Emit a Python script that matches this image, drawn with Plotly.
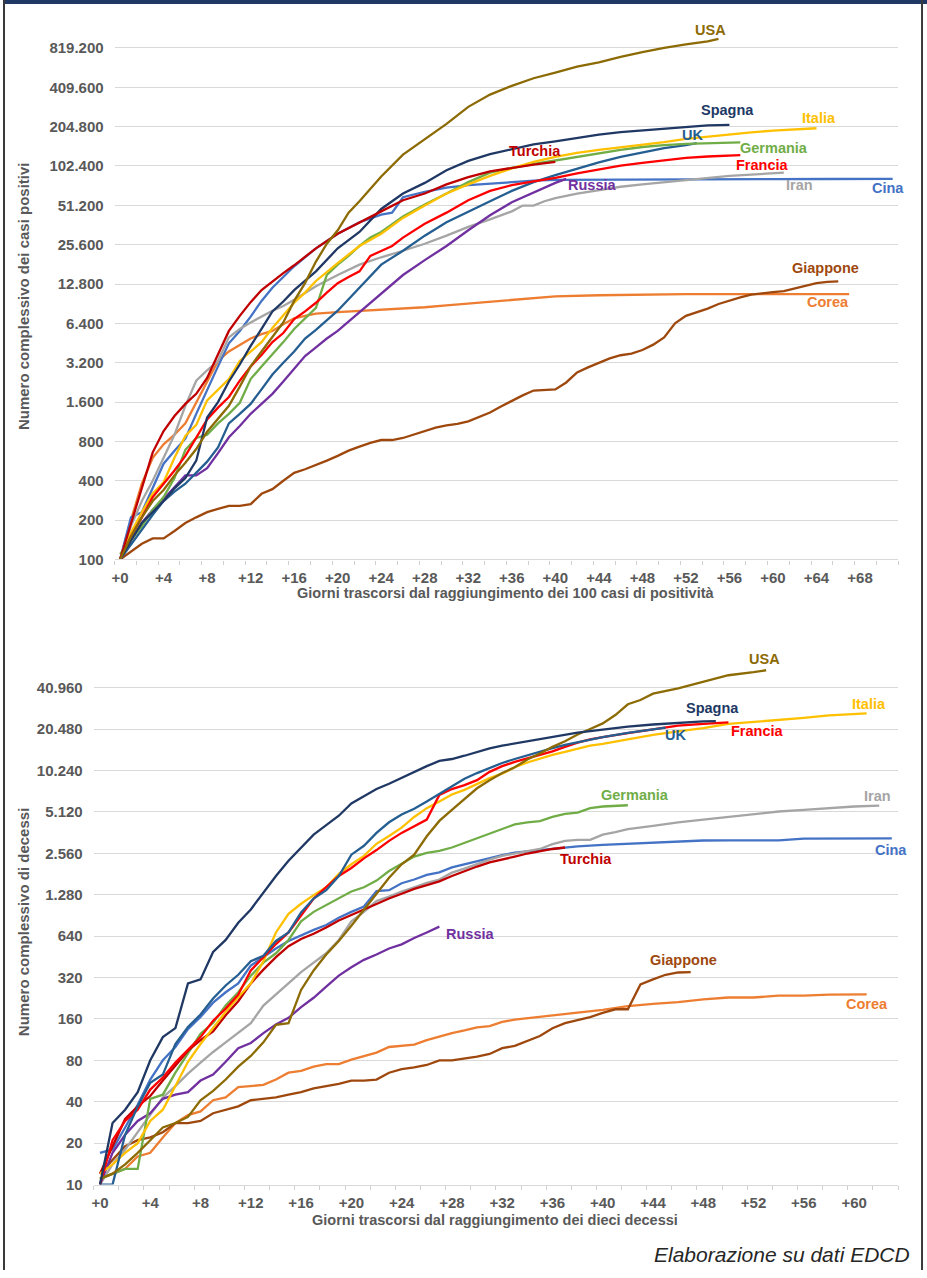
import math
import plotly.graph_objects as go

W, H = 927, 1278

# ---------------- DATA: casi positivi (giorno, valore) ----------------
usa_casi = [(0,100),(1,150),(2,210),(3,280),(4,340),(5,440),(6,550),(7,700),(8,950),(9,1200),(10,1500),
            (11,2100),(12,3000),(13,3900),(14,5000),(15,6500),(16,9500),(17,13000),(18,19000),(19,26000),
            (20,33000),(21,45000),(22,55000),(24,85000),(26,125000),(28,165000),(30,215000),(32,290000),
            (34,360000),(36,420000),(38,480000),(40,530000),(42,590000),(44,635000),(46,700000),(48,760000),
            (50,820000),(52,870000),(54,920000),(55,960000)]
spagna_casi = [(0,100),(1,140),(2,190),(3,230),(4,280),(5,350),(6,420),(7,570),(8,1220),(9,1600),(10,2300),
               (11,3100),(12,4300),(13,5800),(14,7900),(15,9400),(16,11500),(18,16000),(20,24000),(22,32000),
               (24,48000),(26,63000),(28,76000),(30,95000),(32,112000),(34,126000),(36,138000),(38,150000),
               (40,158000),(42,168000),(44,178000),(46,186000),(48,192000),(50,198000),(52,205000),(54,209000),
               (56,211000)]
italia_casi = [(0,100),(1,160),(2,230),(3,320),(4,390),(5,600),(6,880),(7,1070),(8,1650),(9,2000),(10,2400),
               (11,3300),(12,3900),(13,4600),(14,5900),(15,7300),(16,9200),(17,11000),(18,13500),(20,18500),
               (22,25000),(24,31000),(26,41000),(28,51000),(30,63000),(32,74000),(34,86000),(36,98000),
               (38,110000),(40,120000),(42,129000),(44,136000),(46,142000),(48,148000),(50,156000),(52,165000),
               (54,172000),(56,178000),(58,185000),(60,191000),(62,195000),(64,199000)]
uk_casi = [(0,100),(1,130),(2,170),(3,220),(4,280),(5,330),(6,380),(7,460),(8,560),(9,720),(10,1100),(11,1300),
           (12,1550),(13,2000),(14,2600),(15,3200),(16,3900),(17,4900),(18,5700),(20,8000),(22,12000),(24,18000),
           (26,23000),(28,30000),(30,38000),(32,46000),(34,55000),(36,66000),(38,77000),(40,87000),(42,98000),
           (44,109000),(46,120000),(48,130000),(50,140000),(52,148000),(53,153000)]
germania_casi = [(0,110),(1,140),(2,180),(3,240),(4,300),(5,420),(6,690),(7,850),(8,900),(9,1100),(10,1300),
                 (11,1580),(12,2400),(13,3000),(14,3700),(15,4600),(16,5800),(17,7000),(18,8400),(19,15000),
                 (20,18000),(21,21000),(22,25000),(23,29000),(24,32000),(26,42000),(28,52000),(30,63000),
                 (32,77000),(34,91000),(36,99000),(38,106000),(40,113000),(42,120000),(44,128000),(46,136000),
                 (48,143000),(50,148000),(52,151000),(54,153000),(57,155000)]
turchia_casi = [(0,100),(1,190),(2,360),(3,660),(4,960),(5,1250),(6,1550),(7,1850),(8,2450),(9,3700),(10,5600),
                (11,7300),(12,9300),(13,11500),(14,13400),(15,15500),(16,17800),(18,24000),(20,31000),(22,38000),
                (24,46000),(26,56000),(28,63000),(30,74000),(32,84000),(34,93000),(36,99000),(38,105000),(40,110000)]
francia_casi = [(0,100),(1,150),(2,210),(3,300),(4,380),(5,480),(6,620),(7,850),(8,1180),(9,1450),(10,1750),
                (11,2330),(12,3000),(13,3660),(14,4600),(15,5400),(16,6900),(17,7900),(18,9200),(19,11000),
                (20,13000),(21,14500),(22,16000),(23,21000),(24,23000),(25,25000),(26,29000),(28,37000),
                (30,45000),(32,56000),(34,66000),(36,73000),(38,78000),(40,83000),(42,90000),(44,96000),
                (46,103000),(48,108000),(50,113000),(52,118000),(54,121000),(57,124000)]
russia_casi = [(0,100),(1,140),(2,190),(3,240),(4,290),(5,360),(6,440),(7,440),(8,500),(9,650),(10,860),(11,1050),
               (12,1300),(13,1550),(14,1850),(15,2300),(16,2900),(17,3600),(18,4200),(19,4900),(20,5600),
               (22,7800),(24,10800),(26,15000),(28,19500),(30,25000),(32,33000),(34,43000),(36,54000),
               (38,64000),(40,76000),(41,81500)]
iran_casi = [(0,100),(1,180),(2,280),(3,400),(4,600),(5,900),(6,1500),(7,2330),(8,2800),(9,3300),(10,5000),
             (11,5800),(12,6500),(13,7200),(14,8000),(15,8700),(16,9700),(18,12300),(20,15000),(22,18000),
             (24,20500),(26,23000),(28,26000),(30,30000),(32,35000),(34,40000),(36,46000),(37,51000),(38,51000),
             (39,55000),(40,58000),(42,63000),(44,67000),(46,71000),(48,74000),(50,77000),(52,80000),(54,83000),
             (56,86000),(58,88000),(61,91000)]
cina_casi = [(0,100),(1,210),(2,230),(3,350),(4,540),(5,680),(6,840),(7,1300),(8,2000),(9,3000),(10,4500),
             (11,5600),(12,7200),(13,9500),(14,12000),(15,14500),(16,17500),(18,24000),(20,31000),(22,38000),
             (24,43500),(25,45000),(26,59000),(28,65000),(30,70000),(32,73000),(34,75000),(36,77000),(38,79000),
             (40,80000),(45,80500),(50,80800),(55,81000),(60,81200),(65,81400),(71,81500)]
corea_casi = [(0,100),(1,200),(2,380),(3,600),(4,760),(5,900),(6,1100),(7,1600),(8,2330),(9,3300),(10,3900),
              (11,4400),(12,4900),(13,5300),(14,5600),(15,6300),(16,7000),(17,7300),(18,7600),(20,7800),
              (22,7950),(24,8100),(26,8300),(28,8500),(30,8800),(32,9100),(34,9400),(36,9700),(38,10000),
              (40,10300),(44,10500),(48,10650),(52,10700),(58,10700),(67,10700)]
giappone_casi = [(0,100),(1,115),(2,132),(3,145),(4,145),(5,165),(6,190),(7,210),(8,230),(9,244),(10,257),(11,257),
                 (12,265),(13,318),(14,345),(15,400),(16,460),(17,490),(18,525),(19,570),(20,620),(21,680),(22,730),
                 (23,780),(24,820),(25,820),(26,850),(27,900),(28,960),(29,1020),(30,1060),(31,1090),(32,1140),
                 (33,1230),(34,1330),(35,1480),(36,1640),(37,1800),(38,1960),(39,1990),(40,2000),(41,2260),
                 (42,2700),(43,2950),(44,3200),(45,3450),(46,3650),(47,3750),(48,4000),(49,4400),(50,5000),
                 (51,6400),(52,7300),(53,7800),(54,8300),(55,9000),(56,9600),(57,10100),(58,10600),(59,10900),
                 (60,11100),(61,11300),(62,11800),(63,12300),(64,13000),(65,13300),(66,13400)]

# ---------------- DATA: decessi (giorno, valore) ----------------
usa_dec = [(0,11),(1,12),(2,14),(3,17),(4,21),(5,26),(6,28),(7,31),(8,41),(9,48),(10,58),(11,72),(12,86),(13,108),
           (14,145),(15,149),(16,260),(17,360),(18,470),(19,590),(20,760),(21,1000),(22,1300),(23,1700),(24,2130),
           (25,2500),(26,3400),(27,4400),(28,5300),(29,6300),(30,7600),(31,8700),(32,9800),(33,10800),(34,12300),
           (35,13600),(36,15200),(37,16700),(38,18700),(39,20500),(40,22500),(41,25900),(42,31000),(43,33300),
           (44,37000),(46,40500),(48,45000),(50,50400),(52,53000),(53,54800)]
spagna_dec = [(0,10),(1,28),(2,35),(3,47),(4,80),(5,118),(6,137),(7,290),(8,310),(9,490),(10,600),(11,800),
              (12,1000),(13,1330),(14,1750),(15,2260),(16,2800),(17,3500),(18,4100),(19,4800),(20,5900),(21,6700),
              (22,7500),(23,8200),(24,9050),(25,10000),(26,11000),(27,12000),(28,12400),(29,13100),(30,13900),
              (31,14800),(32,15500),(33,16100),(34,16700),(35,17400),(36,18000),(37,18700),(38,19300),(39,19800),
              (40,20300),(42,21300),(44,22100),(46,22800),(48,23300),(49,23400)]
uk_dec = [(0,10),(1,10),(2,23),(3,37),(4,55),(5,63),(6,105),(7,140),(8,172),(9,225),(10,280),(11,335),(12,420),
          (13,460),(14,590),(15,680),(16,950),(17,1200),(18,1380),(19,1750),(20,2500),(21,2900),(22,3600),(23,4300),
          (24,4900),(25,5400),(26,6100),(27,6900),(28,7800),(29,8900),(30,9800),(31,10700),(32,11600),(33,12400),
          (34,13200),(35,14100),(36,14900),(37,15700),(38,16400),(39,17200),(40,17900),(42,19200),(44,20300),
          (45,21000)]
italia_dec = [(0,12),(1,14),(2,17),(3,20),(4,29),(5,35),(6,52),(7,78),(8,105),(9,138),(10,180),(11,230),(12,290),
              (13,420),(14,680),(15,930),(16,1100),(17,1270),(18,1450),(19,1810),(20,2130),(21,2450),(22,3000),
              (23,3420),(24,3930),(25,4700),(26,5450),(27,6100),(28,6850),(29,7400),(30,8200),(31,9000),(32,9700),
              (33,10800),(34,11700),(35,12500),(36,13300),(37,14000),(38,14800),(39,15500),(40,16000),(42,17300),
              (44,18600),(46,19700),(48,20800),(50,22300),(52,23000),(54,23700),(56,24700),(58,25700),(60,26400),
              (61,26600)]
francia_dec = [(0,10),(1,21),(2,29),(3,35),(4,49),(5,60),(6,77),(7,95),(8,118),(9,155),(10,190),(11,240),(12,360),
               (13,450),(14,560),(15,680),(16,900),(17,1200),(18,1450),(19,1750),(20,2000),(21,2350),(22,2700),
               (23,3150),(24,3600),(25,4000),(26,4500),(27,6800),(28,7500),(29,8000),(30,8700),(31,10000),
               (32,11000),(33,11800),(34,12500),(35,13400),(36,14100),(37,15200),(38,16300),(39,17200),
               (40,17900),(42,19100),(44,20300),(46,21700),(48,22300),(50,22900)]
germania_dec = [(0,11),(1,12),(2,13),(3,13),(4,42),(5,45),(6,65),(7,90),(8,125),(9,150),(10,200),(11,250),(12,330),
                (13,410),(14,480),(15,600),(16,820),(17,960),(18,1080),(19,1200),(20,1350),(21,1450),(22,1620),
                (23,1900),(24,2140),(25,2420),(26,2580),(27,2660),(28,2820),(29,3050),(30,3290),(31,3580),
                (32,3880),(33,4150),(34,4300),(35,4390),(36,4700),(37,4950),(38,5050),(39,5450),(40,5600),
                (41,5680),(42,5720)]
turchia_dec = [(0,12),(1,19),(2,30),(3,37),(4,44),(5,57),(6,73),(7,94),(8,112),(9,130),(10,170),(11,215),(12,290),
               (13,365),(14,450),(15,540),(16,610),(17,665),(18,740),(19,830),(20,910),(21,1000),(22,1100),
               (23,1200),(24,1300),(25,1410),(26,1500),(27,1600),(28,1750),(29,1900),(30,2050),(31,2200),
               (32,2300),(33,2420),(34,2550),(35,2650),(36,2750),(37,2820)]
russia_dec = [(0,10),(1,17),(2,23),(3,29),(4,33),(5,42),(6,45),(7,47),(8,57),(9,63),(10,78),(11,98),(12,107),
              (13,126),(14,146),(15,163),(16,195),(17,228),(18,275),(19,330),(20,380),(21,430),(22,470),(23,520),
              (24,557),(25,620),(26,680),(27,750)]
iran_dec = [(0,10),(1,14),(2,18),(3,24),(4,32),(5,43),(6,52),(7,64),(8,77),(9,92),(10,108),(11,127),(12,149),
            (13,200),(14,240),(15,290),(16,350),(17,410),(18,480),(19,600),(20,820),(21,960),(22,1150),(23,1240),
            (24,1350),(25,1450),(26,1560),(27,1650),(28,1850),(29,1980),(30,2140),(31,2300),(32,2450),(33,2560),
            (34,2650),(35,2750),(36,2980),(37,3150),(38,3200),(39,3200),(40,3500),(41,3650),(42,3830),(44,4050),
            (46,4300),(48,4500),(50,4700),(52,4900),(54,5150),(56,5300),(58,5450),(60,5600),(62,5680)]
cina_dec = [(0,17),(1,18),(2,26),(3,38),(4,58),(5,80),(6,100),(7,135),(8,165),(9,210),(10,250),(11,290),(12,390),
            (13,450),(14,520),(15,590),(16,650),(17,710),(18,770),(19,870),(20,960),(21,1050),(22,1360),(23,1380),
            (24,1550),(25,1650),(26,1780),(27,1860),(28,2020),(29,2130),(30,2240),(31,2350),(32,2480),(33,2590),
            (34,2650),(35,2700),(36,2770),(37,2820),(38,2870),(40,2950),(42,3000),(44,3060),(46,3130),(48,3170),
            (50,3180),(54,3180),(56,3270),(58,3280),(63,3290)]
giappone_dec = [(0,12),(1,15),(2,19),(3,21),(4,22),(5,24),(6,28),(7,28),(8,29),(9,33),(10,35),(11,37),(12,41),
                (13,42),(14,43),(15,45),(16,47),(17,50),(18,52),(19,54),(20,57),(21,57),(22,58),(23,65),(24,69),
                (25,71),(26,74),(27,80),(28,80),(29,82),(30,85),(31,89),(32,98),(33,102),(34,110),(35,120),
                (36,137),(37,149),(38,157),(39,165),(40,177),(41,188),(42,188),(43,285),(44,310),(45,335),
                (46,348),(47,350)]
corea_dec = [(0,11),(1,12),(2,13),(3,16),(4,17),(5,22),(6,28),(7,32),(8,34),(9,41),(10,43),(11,51),(12,52),(13,53),
             (14,58),(15,65),(16,67),(17,72),(18,75),(19,75),(20,81),(21,86),(22,91),(23,100),(24,102),(25,104),
             (26,112),(27,119),(28,126),(29,132),(30,139),(31,142),(32,152),(33,158),(34,162),(36,171),(38,178),
             (40,186),(42,198),(44,206),(46,212),(48,222),(50,229),(52,229),(54,236),(56,236),(58,240),(61,241)]

# tick values
y_ticks_casi = [100, 200, 400, 800, 1600, 3200, 6400, 12800, 25600, 51200, 102400, 204800, 409600, 819200]
y_ticks_dec = [10, 20, 40, 80, 160, 320, 640, 1280, 2560, 5120, 10240, 20480, 40960]
x_ticks_casi = list(range(0, 69, 4))
x_ticks_dec = list(range(0, 61, 4))

# ---------------- STYLE ----------------
COL = {
    "USA": "#8C6A04", "Spagna": "#203864", "Italia": "#FFC000", "UK": "#255E91",
    "Germania": "#70AD47", "Turchia": "#C00000", "Francia": "#FF0000", "Russia": "#7030A0",
    "Iran": "#A5A5A5", "Cina": "#4472C4", "Corea": "#ED7D31", "Giappone": "#9E480E",
}
FONT = "Liberation Sans"
GREY_TXT = "#595959"

serie_casi = [("Corea", corea_casi), ("Giappone", giappone_casi), ("Cina", cina_casi), ("Iran", iran_casi),
              ("Russia", russia_casi), ("UK", uk_casi), ("Germania", germania_casi), ("Italia", italia_casi),
              ("Francia", francia_casi), ("Spagna", spagna_casi), ("Turchia", turchia_casi), ("USA", usa_casi)]
serie_dec = [("Corea", corea_dec), ("Giappone", giappone_dec), ("Cina", cina_dec), ("Iran", iran_dec),
             ("Russia", russia_dec), ("Germania", germania_dec), ("Turchia", turchia_dec), ("Italia", italia_dec),
             ("Francia", francia_dec), ("UK", uk_dec), ("USA", usa_dec), ("Spagna", spagna_dec)]

fig = go.Figure()
for name, data in serie_casi:
    fig.add_trace(go.Scatter(x=[d for d, _ in data], y=[v for _, v in data], mode="lines", name=name,
                             line=dict(color=COL[name], width=2.3), xaxis="x", yaxis="y", showlegend=False))
for name, data in serie_dec:
    fig.add_trace(go.Scatter(x=[d for d, _ in data], y=[v for _, v in data], mode="lines", name=name,
                             line=dict(color=COL[name], width=2.3), xaxis="x2", yaxis="y2", showlegend=False))

def fmt(v):
    return f"{v:,}".replace(",", ".")

def px(xp):
    return xp / W

def py(yp):
    return 1 - yp / H

tickfont = dict(family=FONT, size=15, color=GREY_TXT)

def xaxis_cfg(dom, rng, ticks, anchor):
    return dict(domain=dom, range=rng, tickmode="array", tickvals=ticks,
                ticktext=["<b>+%d</b>" % t for t in ticks], ticks="outside", ticklen=4,
                tickcolor="rgba(0,0,0,0)", showgrid=False, zeroline=False,
                showline=True, linecolor="#D9D9D9", linewidth=1.3, tickfont=tickfont, anchor=anchor,
                minor=dict(tick0=-0.5, dtick=2, ticks="outside", ticklen=4, tickcolor="#D0D0D0",
                           tickwidth=1, showgrid=False))

def yaxis_cfg(dom, rng, ticks, anchor):
    return dict(type="log", domain=dom, range=rng, tickmode="array", tickvals=ticks,
                ticktext=["<b>%s</b>" % fmt(t) for t in ticks], ticks="", showgrid=True,
                gridcolor="#D9D9D9", gridwidth=1.3, zeroline=False, showline=False,
                tickfont=tickfont, anchor=anchor, ticklabelstandoff=10)

fig.update_layout(
    width=W, height=H, margin=dict(l=0, r=0, t=0, b=0),
    paper_bgcolor="white", plot_bgcolor="white", showlegend=False,
    xaxis=xaxis_cfg([px(112), px(898)], [-0.5, 71.5], x_ticks_casi, "y"),
    yaxis=yaxis_cfg([py(563), py(9)], [math.log10(100), math.log10(100 * 2 ** (554 / 39.6))], y_ticks_casi, "x"),
    xaxis2=xaxis_cfg([px(91), px(898)], [-0.5, 63.5], x_ticks_dec, "y2"),
    yaxis2=yaxis_cfg([py(1192), py(650)], [math.log10(10), math.log10(10 * 2 ** (542 / 41.67))], y_ticks_dec, "x2"),
)

ann = []
# axis titles
title_font = dict(family=FONT, size=14.5, color=GREY_TXT)
ann.append(dict(text="<b>Numero complessivo dei casi positivi</b>", x=px(20), y=py(298), xref="paper", yref="paper",
                textangle=-90, showarrow=False, font=dict(family=FONT, size=15, color=GREY_TXT),
                xanchor="center", yanchor="middle"))
ann.append(dict(text="<b>Giorni trascorsi dal raggiungimento dei 100 casi di positività</b>", x=px(505), y=py(597),
                xref="paper", yref="paper", showarrow=False, font=title_font, xanchor="center", yanchor="middle"))
ann.append(dict(text="<b>Numero complessivo di decessi</b>", x=px(20), y=py(928), xref="paper", yref="paper",
                textangle=-90, showarrow=False, font=dict(family=FONT, size=15, color=GREY_TXT),
                xanchor="center", yanchor="middle"))
ann.append(dict(text="<b>Giorni trascorsi dal raggiungimento dei dieci decessi</b>", x=px(494), y=py(1228),
                xref="paper", yref="paper", showarrow=False, font=title_font, xanchor="center", yanchor="middle"))
ann.append(dict(text="<i>Elaborazione su dati EDCD</i>", x=px(912), y=py(1262), xref="paper", yref="paper",
                showarrow=False, font=dict(family=FONT, size=21, color="#262626"), xanchor="right", yanchor="middle"))

# series labels (day, value) placement
lab_casi = {"USA": (54.3, 1127000), "Spagna": (55.8, 272000), "Italia": (64.2, 237000), "UK": (52.6, 176000),
            "Germania": (60.1, 140000), "Turchia": (38.1, 133000), "Francia": (59.0, 104500),
            "Russia": (43.4, 73400), "Iran": (62.4, 73400), "Cina": (70.6, 69500),
            "Giappone": (64.8, 17100), "Corea": (65.1, 9300)}
lab_dec = {"USA": (52.9, 66200), "Italia": (61.2, 31400), "Spagna": (48.7, 29350), "UK": (45.8, 18440),
           "Francia": (52.3, 19660), "Germania": (42.6, 6800), "Iran": (61.9, 6670), "Cina": (62.9, 2720),
           "Turchia": (38.7, 2340), "Russia": (29.4, 660), "Giappone": (46.4, 429), "Corea": (61.0, 207)}
for name, (d, v) in lab_casi.items():
    ann.append(dict(text="<b>%s</b>" % name, x=d, y=math.log10(v), xref="x", yref="y", showarrow=False,
                    font=dict(family=FONT, size=14.5, color=COL[name]), xanchor="center", yanchor="middle"))
for name, (d, v) in lab_dec.items():
    ann.append(dict(text="<b>%s</b>" % name, x=d, y=math.log10(v), xref="x2", yref="y2", showarrow=False,
                    font=dict(family=FONT, size=14.5, color=COL[name]), xanchor="center", yanchor="middle"))
fig.update_layout(annotations=ann)

# frame: top band and side borders
fig.add_shape(type="rect", xref="paper", yref="paper", x0=0, x1=1, y0=py(4), y1=1,
              fillcolor="#1F3864", line=dict(width=0))
fig.add_shape(type="line", xref="paper", yref="paper", x0=px(1), x1=px(1), y0=0, y1=1,
              line=dict(color="#3A3A3A", width=2))
fig.add_shape(type="line", xref="paper", yref="paper", x0=px(922), x1=px(922), y0=0, y1=1,
              line=dict(color="#3A3A3A", width=2))

fig.write_html("out.html", config={"displayModeBar": False},
               post_script="document.body.style.margin='0';document.body.style.overflow='hidden';"
                           "document.documentElement.style.overflow='hidden';")
